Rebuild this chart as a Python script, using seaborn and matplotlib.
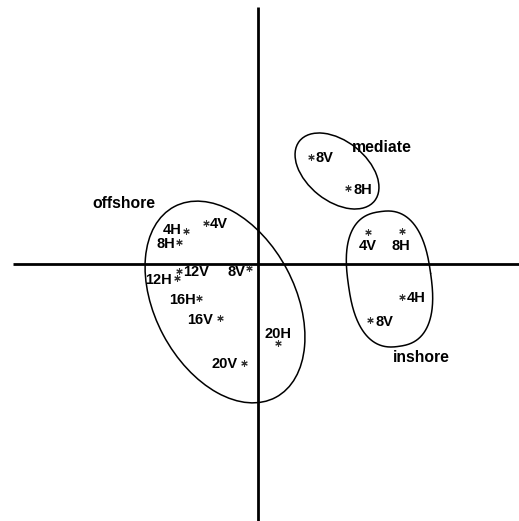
import numpy as np
import pandas as pd
import seaborn as sns
import matplotlib
matplotlib.use("Agg")
import matplotlib.pyplot as plt
from matplotlib.patches import Ellipse

sns.set_theme(style="white")
plt.rcParams["font.family"] = ["Liberation Sans", "DejaVu Sans"]
plt.rcParams["text.color"] = "black"

# Ordination scores of the samples (axis 1, axis 2)
offshore_labels = ["4H", "4V", "8H", "8V", "12H", "12V", "16H", "16V", "20H", "20V"]
offshore_x = [-0.72, -0.52, -0.79, -0.09, -0.81, -0.79, -0.59, -0.38, 0.20, -0.14]
offshore_y = [0.33, 0.41, 0.22, -0.04, -0.14, -0.07, -0.34, -0.54, -0.79, -0.99]

mediate_labels = ["8V", "8H"]
mediate_x = [0.53, 0.90]
mediate_y = [1.07, 0.76]

inshore_labels = ["4V", "8H", "4H", "8V"]
inshore_x = [1.10, 1.44, 1.44, 1.12]
inshore_y = [0.32, 0.33, -0.33, -0.56]

df = pd.concat([
    pd.DataFrame({"x": offshore_x, "y": offshore_y, "label": offshore_labels, "group": "offshore"}),
    pd.DataFrame({"x": mediate_x, "y": mediate_y, "label": mediate_labels, "group": "mediate"}),
    pd.DataFrame({"x": inshore_x, "y": inshore_y, "label": inshore_labels, "group": "inshore"}),
], ignore_index=True)

# Label placement: (dx, dy) in pixels from the point, horizontal alignment
placement = {
    ("offshore", "4H"): (-4, 2, "right"),
    ("offshore", "4V"): (4, 0, "left"),
    ("offshore", "8H"): (-4, 0, "right"),
    ("offshore", "8V"): (-4, -3, "right"),
    ("offshore", "12H"): (-5, 0, "right"),
    ("offshore", "12V"): (4, 0, "left"),
    ("offshore", "16H"): (-3, 0, "right"),
    ("offshore", "16V"): (-7, 0, "right"),
    ("offshore", "20H"): (0, 11, "center"),
    ("offshore", "20V"): (-6, 0, "right"),
    ("mediate", "8V"): (4, 0, "left"),
    ("mediate", "8H"): (5, 0, "left"),
    ("inshore", "4V"): (0, -12, "center"),
    ("inshore", "8H"): (-1, -13, "center"),
    ("inshore", "4H"): (5, 0, "left"),
    ("inshore", "8V"): (6, 0, "left"),
}

fig = plt.figure(figsize=(5.19, 5.21), dpi=100)
ax = fig.add_axes([0, 0, 1, 1])
ax.set_xlim(-2.58, 2.61)
ax.set_ylim(-2.57, 2.64)
ax.set_axis_off()

# Crossed ordination axes
ax.plot([-2.45, 2.61], [0, 0], color="black", lw=2.0, solid_capstyle="butt")
ax.plot([0, 0], [2.57, -2.57], color="black", lw=2.0, solid_capstyle="butt")

sns.scatterplot(data=df, x="x", y="y", marker=(6, 2, 0), s=16, color="#333333",
                linewidth=0.8, ax=ax, legend=False, zorder=3)

for _, r in df.iterrows():
    dx, dy, ha = placement[(r["group"], r["label"])]
    ax.annotate(r["label"], (r["x"], r["y"]), xytext=(dx, dy), textcoords="offset pixels",
                ha=ha, va="center_baseline", fontsize=10.5, fontweight="bold", color="black")

# Group outlines
ax.add_patch(Ellipse((-0.33, -0.38), 2.16, 1.40, angle=-62, fill=False, ec="black", lw=1.1))
ax.add_patch(Ellipse((0.79, 0.93), 0.96, 0.60, angle=-38.5, fill=False, ec="black", lw=1.1))

# Inshore outline: rounded (superelliptic) loop, slightly tilted
t = np.linspace(0, 2 * np.pi, 400)
n = 2.5
u = 0.415 * np.sign(np.cos(t)) * np.abs(np.cos(t)) ** (2 / n)
v = 0.68 * np.sign(np.sin(t)) * np.abs(np.sin(t)) ** (2 / n)
a = np.deg2rad(8)
ax.plot(1.315 + u * np.cos(a) - v * np.sin(a), -0.15 + u * np.sin(a) + v * np.cos(a),
        color="black", lw=1.1)

# Group names
ax.text(-1.345, 0.61, "offshore", ha="center", va="center", fontsize=11.3,
        fontweight="bold", color="black")
ax.text(1.24, 1.17, "mediate", ha="center", va="center", fontsize=11.3,
        fontweight="bold", color="black")
ax.text(1.635, -0.93, "inshore", ha="center", va="center", fontsize=11.3,
        fontweight="bold", color="black")

fig.savefig("out.png", dpi=100)
